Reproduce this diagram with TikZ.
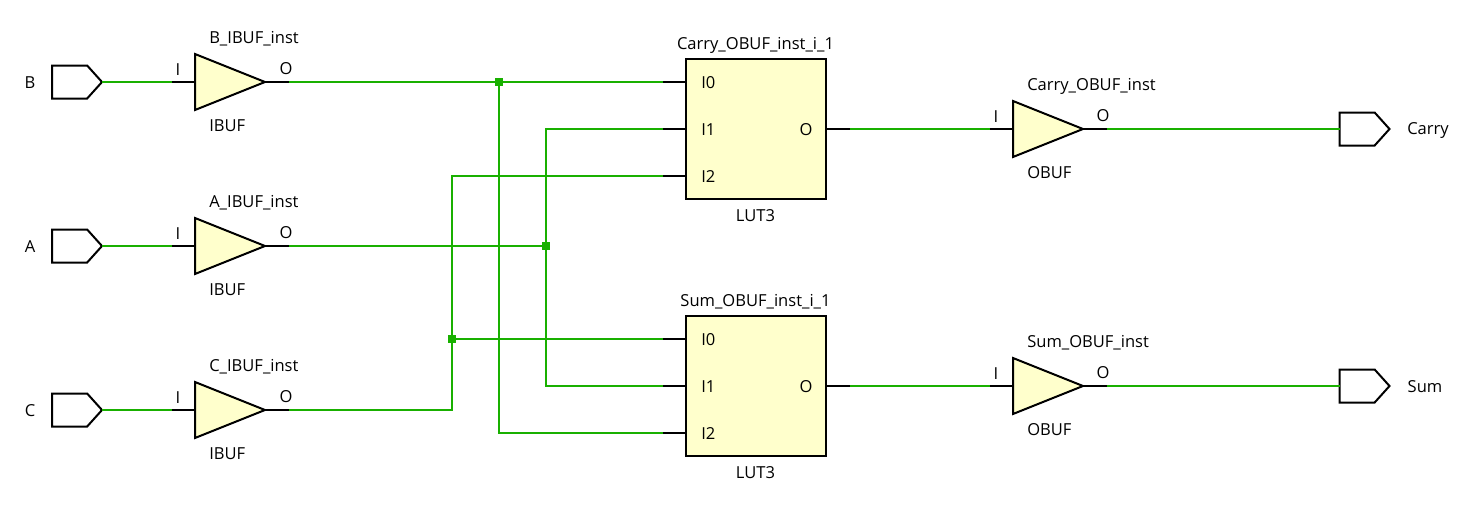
\documentclass[tikz,border=0pt]{standalone}
\usepackage{fontspec}
\setmainfont{Open Sans}
\usetikzlibrary{positioning,shapes.geometric,shapes.symbols}

\tikzset{
  gatebox/.style={draw=black,line width=1.5pt,fill=cellyellow,inner sep=0pt,outer sep=0pt},
  bufgate/.style={gatebox,isosceles triangle,isosceles triangle stretches,shape border rotate=0,
    minimum width=42pt,minimum height=52.5pt,anchor=apex},
  lutbox/.style={gatebox,rectangle,minimum width=105pt,minimum height=105pt,anchor=north west},
  portbox/.style={draw=black,line width=1.5pt,signal,signal to=east,signal from=nowhere,
    signal pointer angle=96,inner sep=0pt,outer sep=0pt,minimum width=37.5pt,minimum height=24.75pt},
  wire/.style={draw=netgreen,line width=1.5pt},
  stub/.style={draw=black,line width=1.5pt},
  junct/.style={fill=netgreen,rectangle,inner sep=0pt,minimum size=6pt},
  lbl/.style={inner sep=0pt,yshift=-0.75pt,font=\fontsize{12.4}{14}\selectfont},
}
\definecolor{cellyellow}{HTML}{FFFFCC}
\definecolor{netgreen}{HTML}{19B000}

\begin{document}
\begin{tikzpicture}[x=0.75pt,y=-0.75pt]
  \useasboundingbox (0,0) rectangle (1481,512);
  % input side
  \foreach \nm/\yy/\ix in {B/82/209,A/246/209,C/410/209} {
    \node[portbox,anchor=west] (\nm port) at (52,\yy) {};
    \node[lbl] (\nm name) at (30,\yy) {\nm};
    \node[bufgate] (\nm buf) at (265,\yy) {};
    \coordinate (\nm in) at (172,\yy);
    \coordinate (\nm out) at (289,\yy);
    \node[lbl] (\nm pinI) at (178,\yy-13) {I};
    \node[lbl] (\nm pinO) at (286,\yy-14) {O};
    \node[lbl,anchor=west] (\nm inst) at (\ix,\yy-44) {\nm\_IBUF\_inst};
    \node[lbl,anchor=west] (\nm type) at (\ix,\yy+43) {IBUF};
    \draw[wire] (\nm port.east) -- (\nm in);
    \draw[stub] (\nm in) -- (\nm buf.lower side);
    \draw[stub] (\nm buf.apex) -- (\nm out);
  }
  % luts and output side
  \foreach \nm/\yy in {Carry/59,Sum/316} {
    \node[lutbox] (\nm lut) at (686,\yy) {};
    \node[lbl] (\nm lutinst) at (755.5,\yy-15) {\nm\_OBUF\_inst\_i\_1};
    \node[lbl] (\nm luttype) at (755.5,\yy+156) {LUT3};
    \foreach \pin/\dy in {0/23,1/70,2/117} {
      \coordinate (\nm lutI\pin) at (663,\yy+\dy);
      \draw[stub] (\nm lutI\pin) -- (686,\yy+\dy);
      \node[lbl,anchor=west] (\nm lutlbl\pin) at (701,\yy+\dy) {I\pin};
    }
    \node[lbl] (\nm lutpinO) at (806,\yy+70) {O};
    \coordinate (\nm lutout) at (850,\yy+70);
    \draw[stub] (\nm lut.east |- \nm lutout) -- (\nm lutout);
    \node[bufgate] (\nm buf) at (1083,\yy+70) {};
    \coordinate (\nm in) at (990,\yy+70);
    \coordinate (\nm out) at (1107,\yy+70);
    \node[lbl] (\nm pinI) at (996,\yy+57) {I};
    \node[lbl] (\nm pinO) at (1103,\yy+56) {O};
    \node[lbl,anchor=west] (\nm inst) at (1027,\yy+26) {\nm\_OBUF\_inst};
    \node[lbl,anchor=west] (\nm type) at (1027,\yy+113) {OBUF};
    \node[portbox,anchor=west] (\nm port) at (1339.5,\yy+70) {};
    \draw[stub] (\nm in) -- (\nm buf.lower side);
    \draw[stub] (\nm buf.apex) -- (\nm out);
    \draw[wire] (\nm lutout) -- (\nm in);
    \draw[wire] (\nm out) -- (\nm port.west);
  }
  \node[lbl] (Carryname) at (1428,129) {Carry};
  \node[lbl] (Sumname) at (1425,386) {Sum};
  % nets between buffers and luts
  \node[junct] (jB) at (499,82) {};
  \node[junct] (jA) at (546,246) {};
  \node[junct] (jC) at (452,339) {};
  \draw[wire] (Bout) -- (CarrylutI0);
  \draw[wire] (jB.center) |- (SumlutI2);
  \draw[wire] (Aout) -- (jA.center);
  \draw[wire] (CarrylutI1) -| (jA.center) |- (SumlutI1);
  \draw[wire] (Cout) -| (jC.center) |- (CarrylutI2);
  \draw[wire] (jC.center) -- (SumlutI0);
\end{tikzpicture}
\end{document}
